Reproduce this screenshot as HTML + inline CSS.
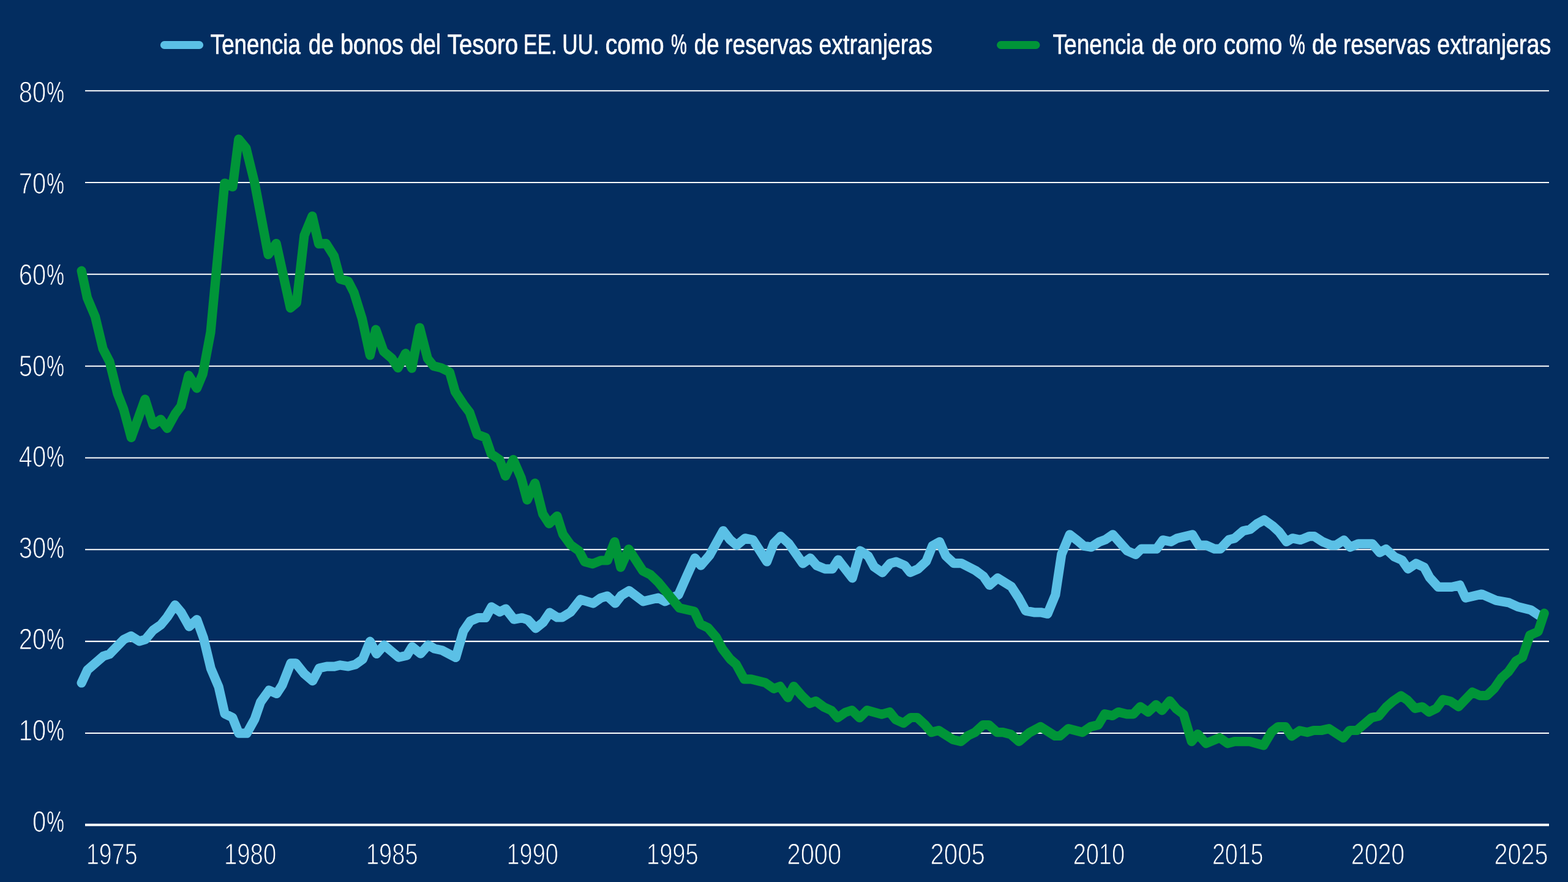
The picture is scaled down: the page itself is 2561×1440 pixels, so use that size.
<!DOCTYPE html>
<html lang="es"><head><meta charset="utf-8">
<style>html,body{margin:0;padding:0;background:#032d60;}body{width:2561px;height:1440px;overflow:hidden;}svg{display:block;}text{font-family:"Liberation Sans",sans-serif;fill:#fff;text-rendering:geometricPrecision;}.lg{font-size:45.8px;stroke:#fff;stroke-width:0.7px;stroke-linejoin:round;}.ax{font-size:48.3px;stroke:#032d60;stroke-width:1.1px;paint-order:fill stroke;}.pc{font-size:48.3px;stroke-width:0.5px;}</style></head><body>
<svg width="2561" height="1440" viewBox="0 0 2561 1440">
<rect x="0" y="0" width="2561" height="1440" fill="#032d60"/>
<g stroke="#fff" fill="none">
<line x1="139" x2="2530" y1="1196.93" y2="1196.93" stroke-width="2.05"/>
<line x1="139" x2="2530" y1="1047.11" y2="1047.11" stroke-width="2.05"/>
<line x1="139" x2="2530" y1="897.29" y2="897.29" stroke-width="2.05"/>
<line x1="139" x2="2530" y1="747.47" y2="747.47" stroke-width="2.05"/>
<line x1="139" x2="2530" y1="597.65" y2="597.65" stroke-width="2.05"/>
<line x1="139" x2="2530" y1="447.83" y2="447.83" stroke-width="2.05"/>
<line x1="139" x2="2530" y1="298.01" y2="298.01" stroke-width="2.05"/>
<line x1="139" x2="2530" y1="148.19" y2="148.19" stroke-width="2.05"/>
<line x1="139" x2="2530" y1="1346.75" y2="1346.75" stroke-width="4.0"/>
</g>
<polyline points="133.1,1115.0 142.9,1093.8 168.8,1071.2 178.8,1068.1 202.2,1044.0 214.0,1038.4 227.5,1046.9 237.5,1044.0 250.0,1029.0 262.8,1020.0 273.1,1007.5 285.9,987.8 296.2,1000.2 309.0,1022.9 321.5,1011.5 332.5,1041.9 344.4,1091.5 357.1,1121.2 367.1,1165.4 379.8,1171.5 390.0,1197.2 403.1,1197.2 416.0,1174.0 425.6,1146.2 439.4,1127.1 451.9,1132.5 461.2,1118.1 475.0,1082.8 483.1,1082.8 496.9,1100.0 510.6,1111.6 521.5,1090.9 533.8,1088.1 546.2,1088.1 555.6,1085.9 568.8,1087.9 580.6,1084.8 592.4,1076.4 604.4,1047.2 615.0,1067.4 627.4,1053.2 651.2,1073.2 664.4,1070.2 673.1,1055.9 686.9,1067.2 699.4,1053.0 709.8,1059.1 721.5,1061.6 744.4,1073.5 756.9,1030.2 768.1,1014.0 781.0,1008.5 793.1,1008.5 802.8,990.9 816.2,999.1 826.0,994.0 839.4,1011.2 852.5,1008.8 862.2,1011.9 875.0,1025.8 887.2,1016.0 897.8,1000.2 910.0,1008.0 918.0,1008.0 931.9,999.4 948.1,978.8 968.8,985.0 981.2,976.2 991.9,973.1 1005.0,985.0 1014.8,972.2 1027.5,964.4 1050.6,981.9 1075.0,976.2 1086.2,981.9 1108.1,971.2 1121.9,940.0 1135.0,911.2 1144.8,923.1 1159.0,906.5 1181.2,866.5 1192.5,881.3 1203.1,890.3 1216.9,878.8 1229.8,881.5 1252.5,917.0 1264.0,886.9 1275.2,875.5 1288.4,887.5 1311.2,920.0 1323.5,911.2 1334.1,923.4 1347.2,928.8 1359.4,928.8 1369.0,914.0 1392.2,943.8 1404.8,899.2 1418.1,907.8 1427.8,925.6 1441.2,934.8 1454.0,919.8 1463.8,917.1 1477.5,923.1 1486.7,934.5 1499.4,929.0 1512.8,916.5 1522.9,891.2 1534.6,884.6 1544.8,907.5 1557.8,919.6 1570.0,919.6 1593.4,931.5 1606.2,940.9 1616.2,955.4 1629.4,943.8 1651.9,957.8 1664.0,976.5 1675.2,997.2 1688.8,999.8 1700.0,999.8 1711.0,1002.2 1723.8,971.2 1733.8,905.0 1747.1,872.8 1760.0,882.8 1770.0,891.2 1782.4,893.2 1795.1,884.9 1805.2,881.2 1817.5,872.8 1841.2,899.4 1854.8,905.4 1864.0,896.2 1889.0,896.2 1899.4,881.8 1912.5,884.4 1922.5,878.8 1947.5,872.8 1958.1,890.2 1970.2,890.2 1983.8,896.2 1993.1,896.2 2007.2,881.2 2016.5,878.8 2030.2,866.9 2042.1,864.1 2053.4,855.0 2065.0,848.8 2078.6,858.6 2089.2,868.4 2101.2,884.5 2111.0,878.8 2124.0,881.5 2138.5,875.6 2146.5,875.6 2160.0,884.4 2174.4,890.2 2181.9,890.2 2195.0,881.8 2205.2,893.2 2218.5,887.8 2241.5,887.8 2253.5,902.0 2263.8,896.5 2277.5,909.1 2290.0,914.6 2299.8,928.8 2312.8,920.0 2326.0,926.2 2335.0,942.9 2349.0,958.4 2371.1,958.3 2384.2,955.3 2393.8,976.2 2420.0,970.0 2443.5,980.2 2464.8,984.1 2479.1,990.6 2500.3,995.9 2513.5,1004.8" fill="none" stroke="#5bc0e6" stroke-width="15.2" stroke-linejoin="round" stroke-linecap="round"/>
<polyline points="133.1,442.2 142.5,486.2 155.4,516.9 168.1,569.4 179.0,590.6 191.9,642.5 201.9,668.1 214.4,714.4 236.9,651.9 250.0,693.5 262.5,684.8 273.1,699.4 286.2,675.6 295.6,663.1 308.1,612.9 321.5,633.8 331.2,610.6 344.0,542.5 366.9,299.0 380.0,305.0 389.8,227.2 401.9,241.9 416.2,300.0 438.1,415.6 451.2,397.5 474.4,502.8 484.4,494.4 497.0,384.4 510.0,352.8 520.6,398.1 532.5,397.5 545.6,418.1 555.6,455.6 568.8,459.4 578.1,477.5 591.5,520.6 604.4,580.0 613.8,538.1 626.6,573.8 640.2,585.4 650.0,600.6 662.5,576.9 672.5,601.2 685.4,535.0 698.5,585.6 708.1,597.5 720.6,600.6 734.4,607.5 743.5,639.6 756.9,660.0 766.9,673.1 779.6,709.4 793.1,714.4 802.3,741.0 816.1,750.7 825.6,777.2 838.3,750.4 851.2,780.2 861.0,816.2 873.8,788.8 886.5,839.0 896.9,855.0 909.9,842.5 919.4,872.2 932.0,889.6 945.6,899.4 955.0,917.1 968.1,920.6 981.5,915.0 992.2,914.8 1003.8,884.6 1013.8,926.2 1026.9,896.6 1050.0,932.2 1062.1,938.1 1074.8,950.2 1109.7,992.6 1133.9,998.1 1143.8,1019.0 1156.2,1024.8 1169.8,1040.4 1179.4,1058.8 1192.5,1076.0 1202.5,1084.8 1215.6,1108.8 1226.9,1108.8 1250.0,1114.6 1263.8,1124.4 1274.0,1120.6 1286.9,1139.0 1296.4,1120.6 1310.0,1136.2 1322.5,1148.5 1332.5,1144.6 1345.6,1154.4 1358.1,1160.2 1368.1,1171.9 1380.6,1163.1 1391.2,1159.6 1404.0,1171.9 1416.2,1159.6 1440.0,1166.2 1453.1,1162.5 1462.9,1174.8 1475.6,1180.6 1487.5,1171.5 1498.1,1171.5 1510.9,1183.4 1521.2,1195.6 1533.1,1192.5 1556.7,1207.7 1569.4,1210.6 1581.2,1201.0 1592.5,1195.6 1605.6,1183.5 1615.0,1183.5 1628.5,1195.6 1638.1,1195.6 1650.6,1198.8 1664.4,1210.6 1681.2,1196.2 1699.4,1186.5 1723.1,1201.5 1731.2,1201.5 1745.0,1189.6 1768.1,1195.6 1781.2,1186.5 1793.8,1183.5 1804.4,1165.6 1816.9,1168.5 1826.6,1162.5 1840.3,1165.8 1851.2,1165.8 1862.5,1153.8 1875.2,1162.5 1888.1,1150.6 1897.8,1159.8 1910.6,1144.4 1921.2,1157.2 1933.1,1166.2 1946.2,1210.6 1956.2,1198.5 1969.8,1213.8 1991.9,1204.4 2005.2,1213.8 2016.2,1210.6 2041.2,1210.6 2063.8,1216.9 2076.9,1194.8 2087.5,1186.5 2099.4,1186.5 2109.6,1201.9 2122.7,1192.9 2135.5,1195.6 2145.6,1192.5 2158.1,1192.5 2170.6,1189.6 2194.0,1204.8 2204.4,1192.5 2216.2,1192.5 2240.0,1171.9 2251.9,1169.0 2263.8,1154.8 2275.2,1144.8 2288.0,1135.9 2298.8,1143.1 2311.2,1156.5 2323.1,1154.0 2334.0,1162.5 2346.2,1156.5 2356.9,1142.1 2368.8,1144.8 2382.2,1153.8 2404.9,1130.1 2417.2,1135.6 2428.5,1135.6 2440.6,1124.0 2452.2,1107.2 2463.8,1096.6 2476.2,1079.0 2486.6,1073.1 2498.8,1036.9 2512.2,1031.2 2522.2,1001.2" fill="none" stroke="#009538" stroke-width="15.2" stroke-linejoin="round" stroke-linecap="round"/>
<line x1="268.4" x2="325.6" y1="73.5" y2="73.5" stroke="#5bc0e6" stroke-width="13" stroke-linecap="round"/>
<line x1="1634.6" x2="1692" y1="73.5" y2="73.5" stroke="#009538" stroke-width="13" stroke-linecap="round"/>
<text class="lg" y="88.4"><tspan x="343.82" textLength="147.09" lengthAdjust="spacingAndGlyphs">Tenencia</tspan> <tspan x="503.77" textLength="41.29" lengthAdjust="spacingAndGlyphs">de</tspan> <tspan x="555.89" textLength="103.17" lengthAdjust="spacingAndGlyphs">bonos</tspan> <tspan x="670.00" textLength="50.17" lengthAdjust="spacingAndGlyphs">del</tspan> <tspan x="730.73" textLength="115.52" lengthAdjust="spacingAndGlyphs">Tesoro</tspan> <tspan x="855.05" textLength="54.72" lengthAdjust="spacingAndGlyphs">EE.</tspan> <tspan x="918.13" textLength="60.51" lengthAdjust="spacingAndGlyphs">UU.</tspan> <tspan x="988.68" textLength="95.90" lengthAdjust="spacingAndGlyphs">como</tspan> <tspan x="1096.08" textLength="25.89" lengthAdjust="spacingAndGlyphs">%</tspan> <tspan x="1133.79" textLength="40.75" lengthAdjust="spacingAndGlyphs">de</tspan> <tspan x="1184.08" textLength="143.20" lengthAdjust="spacingAndGlyphs">reservas</tspan> <tspan x="1337.51" textLength="185.43" lengthAdjust="spacingAndGlyphs">extranjeras</tspan></text>
<text class="lg" y="88.4"><tspan x="1719.51" textLength="148.65" lengthAdjust="spacingAndGlyphs">Tenencia</tspan> <tspan x="1881.30" textLength="40.59" lengthAdjust="spacingAndGlyphs">de</tspan> <tspan x="1931.20" textLength="56.11" lengthAdjust="spacingAndGlyphs">oro</tspan> <tspan x="1998.43" textLength="95.90" lengthAdjust="spacingAndGlyphs">como</tspan> <tspan x="2105.83" textLength="25.89" lengthAdjust="spacingAndGlyphs">%</tspan> <tspan x="2143.03" textLength="41.02" lengthAdjust="spacingAndGlyphs">de</tspan> <tspan x="2193.84" textLength="142.69" lengthAdjust="spacingAndGlyphs">reservas</tspan> <tspan x="2347.25" textLength="186.04" lengthAdjust="spacingAndGlyphs">extranjeras</tspan></text>
<text class="ax" y="167"><tspan x="30.75" textLength="44.49" lengthAdjust="spacingAndGlyphs">80</tspan><tspan class="pc" x="75.91" textLength="28.99" lengthAdjust="spacingAndGlyphs">%</tspan></text>
<text class="ax" y="316"><tspan x="30.75" textLength="44.49" lengthAdjust="spacingAndGlyphs">70</tspan><tspan class="pc" x="75.91" textLength="28.99" lengthAdjust="spacingAndGlyphs">%</tspan></text>
<text class="ax" y="465"><tspan x="30.75" textLength="44.49" lengthAdjust="spacingAndGlyphs">60</tspan><tspan class="pc" x="75.91" textLength="28.99" lengthAdjust="spacingAndGlyphs">%</tspan></text>
<text class="ax" y="614"><tspan x="30.75" textLength="44.49" lengthAdjust="spacingAndGlyphs">50</tspan><tspan class="pc" x="75.91" textLength="28.99" lengthAdjust="spacingAndGlyphs">%</tspan></text>
<text class="ax" y="762"><tspan x="30.75" textLength="44.49" lengthAdjust="spacingAndGlyphs">40</tspan><tspan class="pc" x="75.91" textLength="28.99" lengthAdjust="spacingAndGlyphs">%</tspan></text>
<text class="ax" y="911"><tspan x="30.75" textLength="44.49" lengthAdjust="spacingAndGlyphs">30</tspan><tspan class="pc" x="75.91" textLength="28.99" lengthAdjust="spacingAndGlyphs">%</tspan></text>
<text class="ax" y="1060"><tspan x="30.75" textLength="44.49" lengthAdjust="spacingAndGlyphs">20</tspan><tspan class="pc" x="75.91" textLength="28.99" lengthAdjust="spacingAndGlyphs">%</tspan></text>
<text class="ax" y="1209"><tspan x="30.75" textLength="44.49" lengthAdjust="spacingAndGlyphs">10</tspan><tspan class="pc" x="75.91" textLength="28.99" lengthAdjust="spacingAndGlyphs">%</tspan></text>
<text class="ax" y="1358"><tspan x="53.00" textLength="22.25" lengthAdjust="spacingAndGlyphs">0</tspan><tspan class="pc" x="75.91" textLength="28.99" lengthAdjust="spacingAndGlyphs">%</tspan></text>
<text class="ax" x="140.98" y="1411" textLength="83.55" lengthAdjust="spacingAndGlyphs">1975</text>
<text class="ax" x="365.92" y="1411" textLength="85.30" lengthAdjust="spacingAndGlyphs">1980</text>
<text class="ax" x="597.95" y="1411" textLength="84.61" lengthAdjust="spacingAndGlyphs">1985</text>
<text class="ax" x="827.45" y="1411" textLength="84.51" lengthAdjust="spacingAndGlyphs">1990</text>
<text class="ax" x="1055.94" y="1411" textLength="84.87" lengthAdjust="spacingAndGlyphs">1995</text>
<text class="ax" x="1285.56" y="1411" textLength="88.47" lengthAdjust="spacingAndGlyphs">2000</text>
<text class="ax" x="1519.54" y="1411" textLength="89.35" lengthAdjust="spacingAndGlyphs">2005</text>
<text class="ax" x="1752.66" y="1411" textLength="84.30" lengthAdjust="spacingAndGlyphs">2010</text>
<text class="ax" x="1979.92" y="1411" textLength="83.61" lengthAdjust="spacingAndGlyphs">2015</text>
<text class="ax" x="2206.84" y="1411" textLength="87.27" lengthAdjust="spacingAndGlyphs">2020</text>
<text class="ax" x="2440.57" y="1411" textLength="88.05" lengthAdjust="spacingAndGlyphs">2025</text>
</svg></body></html>
